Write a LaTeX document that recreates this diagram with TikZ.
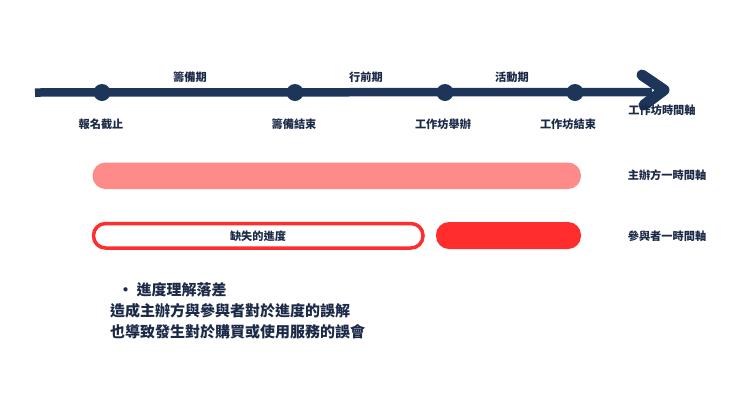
\documentclass[tikz,border=0pt]{standalone}
\usepackage{fontspec}
\newfontfamily\cjk{Noto Sans CJK TC}
\definecolor{navy}{HTML}{1C3559}
\definecolor{txt}{HTML}{1B2A47}
\definecolor{pinkbar}{HTML}{FF8A8A}
\definecolor{redbar}{HTML}{FF2D2D}
\tikzset{
  lbl/.style={font=\cjk\bfseries\fontsize{11.2}{13}\selectfont, text=txt, inner sep=0pt},
  dot/.style={circle, fill=navy, minimum size=17pt, inner sep=0pt},
  bar/.style={rounded corners=13pt},
  big/.style={font=\cjk\bfseries\fontsize{15}{18}\selectfont, text=txt, inner sep=0pt, anchor=west},
}
\begin{document}
\begin{tikzpicture}[x=1pt,y=-1pt]
\useasboundingbox (0,0) rectangle (740,416);
% axis
\coordinate (start) at (35,92.5);
\coordinate (tip) at (664,90);
\draw[navy, line width=8.5pt] (start) -- (652,92);
\draw[navy, line width=11pt, line cap=round, line join=round] (642,75) -- (tip) -- (644,105);
\node[dot] (d1) at (102,92.5) {};
\node[dot] (d2) at (295,92.5) {};
\node[dot] (d3) at (445,92.5) {};
\node[dot] (d4) at (575,92.5) {};
% labels above
\node[lbl] (p1) at (190,77) {籌備期};
\node[lbl] (p2) at (366,77) {行前期};
\node[lbl] (p3) at (512,77) {活動期};
% labels below
\node[lbl] (l1) at (101,124) {報名截止};
\node[lbl] (l2) at (294,124) {籌備結束};
\node[lbl] (l3) at (443,124) {工作坊舉辦};
\node[lbl] (l4) at (568,124) {工作坊結束};
\node[lbl] (axl) at (662,110) {工作坊時間軸};
% bars
\fill[pinkbar, bar] (92.5,162.5) rectangle (581,189);
\draw[redbar, line width=3.5pt, fill=white, rounded corners=12pt] (93.5,223.5) rectangle (423,248);
\node[lbl] (miss) at (258,236) {缺失的進度};
\fill[redbar, bar] (436,222) rectangle (581,249);
\node[lbl] (r1) at (667,175.5) {主辦方一時間軸};
\node[lbl] (r2) at (667,236) {參與者一時間軸};
% bottom text
\node[big] (b0) at (118,290) {\textbullet\hspace{3.5pt}進度理解落差};
\node[big] (b1) at (110,311) {造成主辦方與參與者對於進度的誤解};
\node[big] (b2) at (110,331.5) {也導致發生對於購買或使用服務的誤會};
\end{tikzpicture}
\end{document}
